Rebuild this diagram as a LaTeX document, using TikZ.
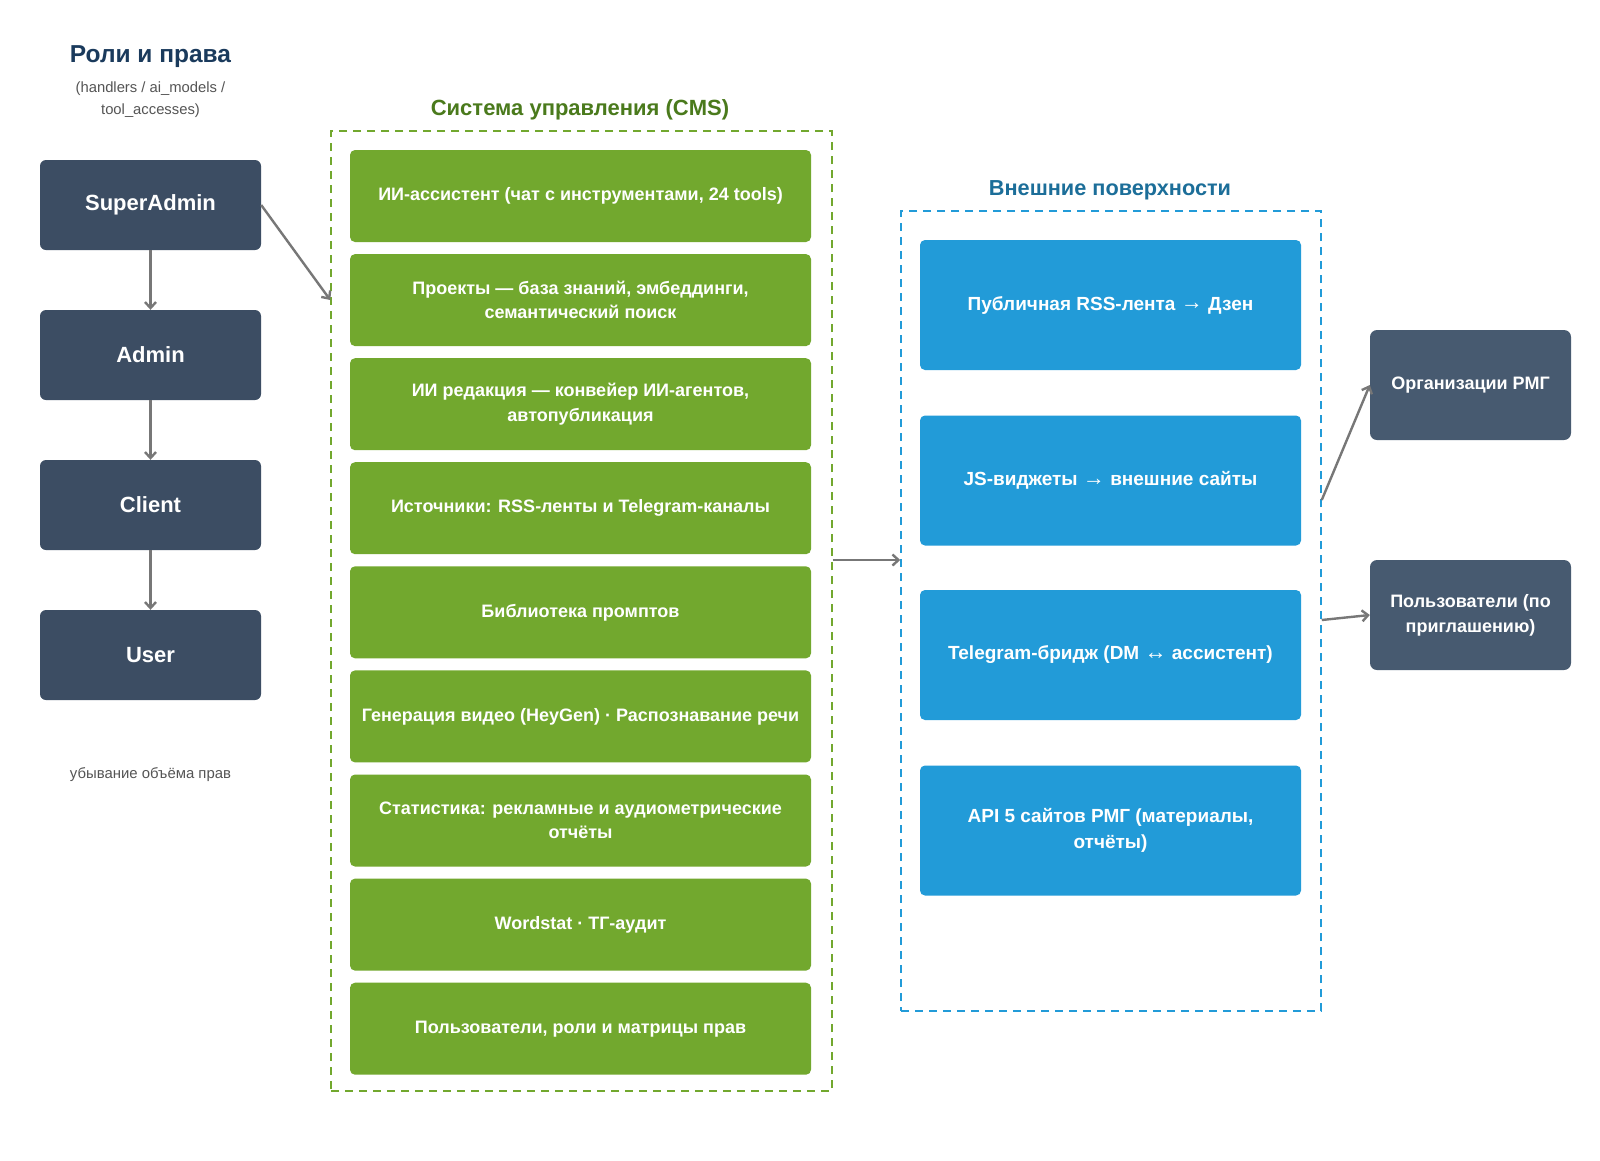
\documentclass[tikz,border=0pt]{standalone}
\usepackage{fontspec}
\setmainfont{Liberation Sans}
\usetikzlibrary{arrows.meta,calc}
\definecolor{roleC}{HTML}{3C4D63}
\definecolor{extC}{HTML}{475A70}
\definecolor{greenC}{HTML}{72A82E}
\definecolor{blueC}{HTML}{229BD8}
\definecolor{titleRoles}{HTML}{1A3A5C}
\definecolor{titleCMS}{HTML}{4A7A1C}
\definecolor{titleExt}{HTML}{1C6E99}
\definecolor{arrC}{HTML}{777777}
\definecolor{subC}{HTML}{555555}
\newcommand{\myarr}[1]{{\mdseries\fontsize{22}{20}\selectfont\raisebox{0.5pt}{#1}}}
\tikzset{
  rolebox/.style={fill=roleC, rounded corners=6pt, minimum width=221pt, minimum height=90pt, text=white, font=\bfseries\fontsize{22}{26}\selectfont, inner sep=0pt},
  greenbox/.style={fill=greenC, rounded corners=5pt, minimum width=461pt, minimum height=92pt, text=white, align=center, font=\bfseries\fontsize{18}{24.5}\selectfont, inner sep=0pt},
  bluebox/.style={fill=blueC, rounded corners=5pt, minimum width=381pt, minimum height=130pt, text=white, align=center, font=\bfseries\fontsize{19}{26}\selectfont, inner sep=0pt},
  extbox/.style={fill=extC, rounded corners=7pt, minimum width=201pt, minimum height=110pt, text=white, align=center, font=\bfseries\fontsize{18}{25}\selectfont, inner sep=0pt},
  arr/.style={draw=arrC, line width=2.4pt, -{Straight Barb[length=6pt,width=11pt]}},
}
\begin{document}
\begin{tikzpicture}[x=1pt,y=-1pt]
\useasboundingbox[fill=white] (0,0) rectangle (1600,1160);
% titles
\node[font=\bfseries\fontsize{24.5}{28}\selectfont, text=titleRoles] (troles) at (150.5,57) {Роли и права};
\node[font=\fontsize{14.8}{22}\selectfont, text=subC, align=center] (tsub) at (150.5,100) {(handlers / ai\_models /\\tool\_accesses)};
\node[font=\bfseries\fontsize{22}{26}\selectfont, text=titleCMS] (tcms) at (580,110) {Система управления (CMS)};
\node[font=\bfseries\fontsize{21.7}{26}\selectfont, text=titleExt] (text) at (1110,190) {Внешние поверхности};
\node[font=\fontsize{14.9}{18}\selectfont, text=subC] (tdesc) at (150.5,775) {убывание объёма прав};
% containers
\node[draw=greenC, dashed, dash pattern=on 8pt off 6pt, line width=1.5pt, minimum width=501pt, minimum height=960pt, inner sep=0pt] (cms) at (581.5,611) {};
\node[draw=blueC, dashed, dash pattern=on 8pt off 6pt, line width=1.5pt, minimum width=420pt, minimum height=800pt, inner sep=0pt] (ext) at (1111,611) {};
% roles
\node[rolebox] (sa) at (150.5,205) {SuperAdmin};
\node[rolebox] (ad) at (150.5,355) {Admin};
\node[rolebox] (cl) at (150.5,505) {Client};
\node[rolebox] (us) at (150.5,655) {User};
% green boxes
\node[greenbox] (g1) at (580.5,196) {ИИ-ассистент (чат с инструментами, 24 tools)};
\node[greenbox] (g2) at (580.5,300.1) {Проекты — база знаний, эмбеддинги,\\семантический поиск};
\node[greenbox] (g3) at (580.5,404.2) {ИИ редакция — конвейер ИИ-агентов,\\автопубликация};
\node[greenbox] (g4) at (580.5,508.2) {Источники: RSS-ленты и Telegram-каналы};
\node[greenbox] (g5) at (580.5,612.3) {Библиотека промптов};
\node[greenbox] (g6) at (580.5,716.4) {Генерация видео (HeyGen) · Распознавание речи};
\node[greenbox] (g7) at (580.5,820.5) {Статистика: рекламные и аудиометрические\\отчёты};
\node[greenbox] (g8) at (580.5,924.6) {Wordstat · ТГ-аудит};
\node[greenbox] (g9) at (580.5,1028.7) {Пользователи, роли и матрицы прав};
% blue boxes
\node[bluebox] (b1) at (1110.5,305) {Публичная RSS-лента \myarr{→} Дзен};
\node[bluebox] (b2) at (1110.5,480.5) {JS-виджеты \myarr{→} внешние сайты};
\node[bluebox] (b3) at (1110.5,655) {Telegram-бридж (DM \myarr{↔} ассистент)};
\node[bluebox] (b4) at (1110.5,830.5) {API 5 сайтов РМГ (материалы,\\отчёты)};
% external actors
\node[extbox] (org) at (1470.5,385) {Организации РМГ};
\node[extbox] (usr) at (1470.5,615) {Пользователи (по\\приглашению)};
% arrows
\draw[arr] (sa.south) -- (ad.north);
\draw[arr] (ad.south) -- (cl.north);
\draw[arr] (cl.south) -- (us.north);
\draw[arr] (sa.east) -- (cms.west |- 0,300);
\draw[arr] (cms.east |- 0,560) -- (ext.west |- 0,560);
\draw[arr] (ext.east |- 0,500) -- (org.west);
\draw[arr] (ext.east |- 0,620) -- (usr.west);
\end{tikzpicture}
\end{document}
